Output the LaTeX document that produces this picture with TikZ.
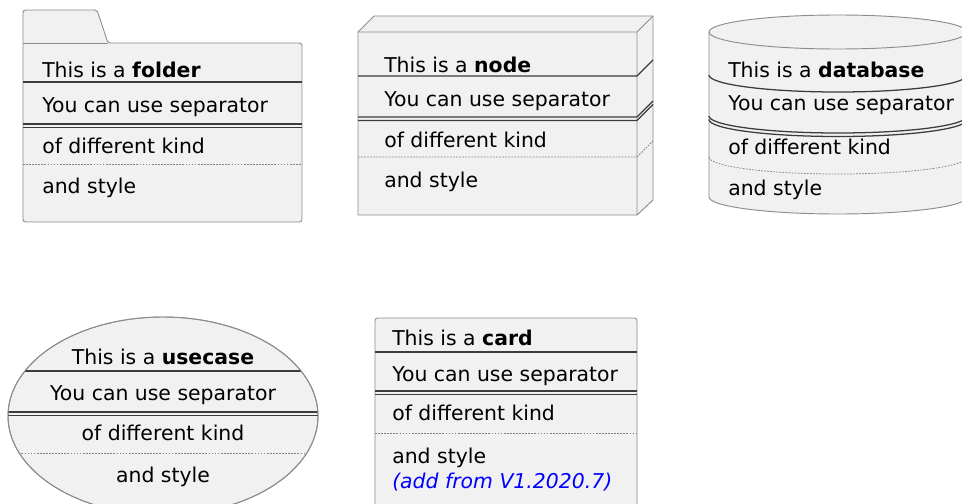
\documentclass[tikz,border=0pt]{standalone}
\usepackage{fontspec}
\setmainfont{DejaVu Sans}
\usepackage{xcolor}
\usetikzlibrary{positioning, calc}

\definecolor{umlfill}{HTML}{F1F1F1}
\definecolor{umlborder}{HTML}{8C8C8C}
\definecolor{umlsep}{HTML}{3C3C3C}
\definecolor{umlnote}{HTML}{0000FF}

\tikzset{
  shapebox/.style={draw=umlborder, fill=umlfill, line width=0.7pt},
  sepline/.style={draw=umlsep, line width=0.95pt},
  dotline/.style={draw=gray, line width=0.55pt, dash pattern=on 1.3pt off 1pt},
  rowtext/.style={anchor=base west, inner sep=0pt, font=\fontsize{15.3pt}{18pt}\selectfont},
  midtext/.style={anchor=base, inner sep=0pt, font=\fontsize{15.3pt}{18pt}\selectfont},
  dbarc/.style={x radius=96.75pt, y radius=12.75pt, start angle=180, end angle=360}
}

\begin{document}
\begin{tikzpicture}[x=0.75pt, y=-0.75pt]
\useasboundingbox (0,0) rectangle (962,503);
\clip (0,0) rectangle (962,503);

\draw[shapebox, rounded corners=2pt] (23,222) -- (23,10) -- (97,10) -- (108,43) -- (302,43) -- (302,222) -- cycle;
\draw[draw=umlborder, line width=0.7pt] (23,43) -- (108,43);
\draw[sepline] (23,82) -- (302,82);
\draw[sepline] (23,124) -- (302,124) (23,127.5) -- (302,127.5);
\draw[dotline] (23,164) -- (302,164);
\node[rowtext] (folderA) at (42,78) {This is a \textbf{folder}};
\node[rowtext] (folderB) at (42,112) {You can use separator};
\node[rowtext] (folderC) at (42,153) {of different kind};
\node[rowtext] (folderD) at (42,193) {and style};

\draw[shapebox] (358,215) -- (358,32) -- (374,16) -- (653,16) -- (653,200) -- (637,215) -- cycle;
\draw[draw=umlborder, line width=0.7pt] (358,32) -- (637,32) -- (637,215) (637,32) -- (653,16);
\draw[sepline] (358,76) -- (637,76) -- (653,60);
\draw[sepline] (358,117) -- (637,117) -- (653,101) (358,120.5) -- (637,120.5) -- (653,104.5);
\draw[dotline] (358,157) -- (637,157) -- (653,141);
\node[rowtext] (nodeA) at (384,72) {This is a \textbf{node}};
\node[rowtext] (nodeB) at (384,106) {You can use separator};
\node[rowtext] (nodeC) at (384,147) {of different kind};
\node[rowtext] (nodeD) at (384,187) {and style};

\draw[shapebox] (709,32) -- (709,197) arc[dbarc] -- (967,32);
\draw[shapebox] (838,32) ellipse [x radius=96.75pt, y radius=12.75pt];
\draw[sepline] (709,75) arc[dbarc];
\draw[sepline] (709,116) arc[dbarc] (709,119.5) arc[dbarc];
\draw[dotline] (709,157) arc[dbarc];
\node[rowtext] (dbA) at (728,77) {This is a \textbf{database}};
\node[rowtext] (dbB) at (728,110) {You can use separator};
\node[rowtext] (dbC) at (728,154) {of different kind};
\node[rowtext] (dbD) at (728,195) {and style};

\draw[shapebox] (163,416) ellipse [x radius=116.25pt, y radius=74.25pt];
\begin{scope}
\clip (163,416) ellipse [x radius=116.25pt, y radius=74.25pt];
\draw[sepline] (0,371) -- (330,371);
\draw[sepline] (0,412) -- (330,412) (0,415.5) -- (330,415.5);
\draw[dotline] (0,453) -- (330,453);
\end{scope}
\draw[draw=umlborder, line width=0.7pt] (163,416) ellipse [x radius=116.25pt, y radius=74.25pt];
\node[midtext] (caseA) at (163,364) {This is a \textbf{usecase}};
\node[midtext] (caseB) at (163,400) {You can use separator};
\node[midtext] (caseC) at (163,440) {of different kind};
\node[midtext] (caseD) at (163,482) {and style};

\draw[shapebox, rounded corners=2pt] (375,318) rectangle (637,520);
\draw[sepline] (375,352) -- (637,352);
\draw[sepline] (375,391) -- (637,391) (375,394.5) -- (637,394.5);
\draw[dotline] (375,433) -- (637,433);
\node[rowtext] (cardA) at (392,345) {This is a \textbf{card}};
\node[rowtext] (cardB) at (392,381) {You can use separator};
\node[rowtext] (cardC) at (392,420) {of different kind};
\node[rowtext] (cardD) at (392,463) {and style};
\node[rowtext, text=umlnote] (cardE) at (392,488) {\textit{(add from V1.2020.7)}};
\end{tikzpicture}
\end{document}
